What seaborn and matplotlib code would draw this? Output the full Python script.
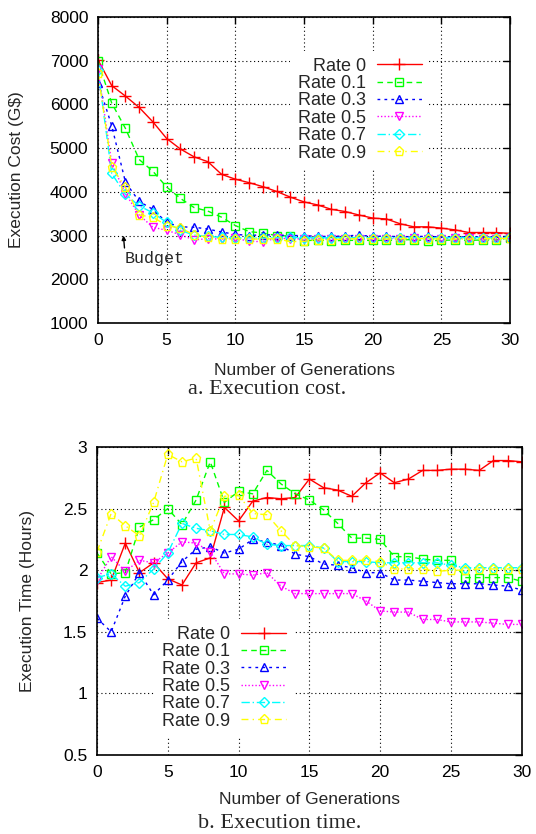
import matplotlib
matplotlib.use("Agg")
import matplotlib.pyplot as plt
import seaborn as sns
import pandas as pd

generations = list(range(31))
rate_labels = ["Rate 0", "Rate 0.1", "Rate 0.3", "Rate 0.5", "Rate 0.7", "Rate 0.9"]

cost_rate0 = [7020, 6430, 6190, 5930, 5600, 5220, 4980, 4800, 4690, 4400, 4290, 4210, 4120, 4010, 3880, 3770,
              3700, 3600, 3550, 3470, 3400, 3380, 3270, 3200, 3200, 3170, 3130, 3070, 3070, 3070, 3050]
cost_rate01 = [6990, 6030, 5450, 4740, 4470, 4110, 3850, 3640, 3560, 3420, 3230, 3090, 3060, 3000, 2990, 2880,
               2900, 2880, 2890, 2890, 2890, 2890, 2900, 2910, 2880, 2890, 2900, 2890, 2900, 2900, 2950]
cost_rate03 = [6500, 5510, 4220, 3780, 3600, 3300, 3200, 3190, 3150, 3080, 3030, 3000, 3020, 3010, 3000, 3000,
               2980, 2980, 2990, 3010, 2980, 2990, 2970, 2980, 2980, 2970, 2970, 2970, 2970, 2960, 2970]
cost_rate05 = [6800, 4650, 3960, 3470, 3190, 3120, 3020, 2900, 2930, 2920, 2940, 2870, 2860, 2940, 2930, 2920,
               2930, 2920, 2930, 2930, 2920, 2930, 2930, 2940, 2930, 2930, 2940, 2940, 2930, 2930, 2940]
cost_rate07 = [6780, 4420, 3940, 3680, 3520, 3300, 3120, 3010, 2980, 2960, 2940, 2950, 2940, 2950, 2960, 2950,
               2950, 2950, 2950, 2950, 2950, 2950, 2950, 2950, 2950, 2950, 2950, 2950, 2950, 2950, 2960]
cost_rate09 = [6720, 4570, 4100, 3470, 3420, 3230, 3170, 3020, 2960, 2930, 2930, 2920, 2920, 2930, 2860, 2870,
               2900, 2910, 2920, 2930, 2930, 2920, 2930, 2930, 2930, 2920, 2920, 2920, 2930, 2930, 2940]

time_rate0 = [1.90, 1.92, 2.22, 1.98, 2.06, 1.93, 1.88, 2.06, 2.10, 2.51, 2.40, 2.56, 2.59, 2.58, 2.59, 2.74,
              2.67, 2.65, 2.60, 2.71, 2.79, 2.71, 2.74, 2.81, 2.81, 2.82, 2.82, 2.81, 2.89, 2.89, 2.88]
time_rate01 = [2.14, 1.97, 1.98, 2.35, 2.41, 2.50, 2.37, 2.57, 2.88, 2.55, 2.64, 2.62, 2.81, 2.70, 2.62, 2.57,
               2.49, 2.38, 2.26, 2.26, 2.25, 2.11, 2.11, 2.09, 2.08, 2.08, 1.94, 1.94, 1.94, 1.94, 1.91]
time_rate03 = [1.61, 1.50, 1.79, 1.98, 1.80, 1.92, 2.07, 2.17, 2.19, 2.14, 2.17, 2.25, 2.23, 2.20, 2.13, 2.11,
               2.05, 2.04, 2.02, 1.98, 1.98, 1.92, 1.92, 1.91, 1.90, 1.89, 1.89, 1.89, 1.88, 1.87, 1.84]
time_rate05 = [1.92, 2.11, 1.99, 2.08, 2.06, 2.14, 2.23, 2.22, 2.15, 1.97, 1.97, 1.96, 1.98, 1.87, 1.81, 1.81,
               1.81, 1.81, 1.81, 1.75, 1.67, 1.66, 1.66, 1.60, 1.60, 1.58, 1.58, 1.58, 1.57, 1.56, 1.56]
time_rate07 = [1.94, 1.97, 1.87, 1.90, 2.01, 2.14, 2.38, 2.34, 2.32, 2.29, 2.29, 2.27, 2.21, 2.20, 2.20, 2.20,
               2.18, 2.07, 2.07, 2.07, 2.06, 2.06, 2.06, 2.06, 2.06, 2.04, 2.02, 2.02, 2.02, 2.02, 2.02]
time_rate09 = [2.15, 2.46, 2.36, 2.28, 2.55, 2.94, 2.88, 2.91, 2.32, 2.60, 2.61, 2.46, 2.45, 2.32, 2.20, 2.19,
               2.18, 2.08, 2.08, 2.08, 2.07, 2.01, 2.01, 2.01, 1.99, 2.00, 2.00, 2.01, 2.01, 2.01, 2.01]

cost_series = [cost_rate0, cost_rate01, cost_rate03, cost_rate05, cost_rate07, cost_rate09]
time_series = [time_rate0, time_rate01, time_rate03, time_rate05, time_rate07, time_rate09]

colors = ["#ff0000", "#00ff00", "#0000ff", "#ff00ff", "#00ffff", "#ffff00"]
markers = ["+", "s", "^", "v", "D", "p"]
msizes = [8, 6, 6, 6, 5, 6.5]
linestyles = ["-", (0, (4, 3)), (0, (2, 3)), (0, (1, 1.5)), (0, (6, 2, 1, 2)), (0, (5, 3, 1, 3))]

sns.set_style("white")
plt.rcParams["font.family"] = ["Liberation Sans", "DejaVu Sans"]

FS = 12.5

fig = plt.figure(figsize=(5.36, 8.34), dpi=100)
ax1 = fig.add_axes([98 / 536, 1 - 323 / 834, 412 / 536, 306 / 834])
ax2 = fig.add_axes([97 / 536, 1 - 755 / 834, 424.7 / 536, 308 / 834])


def draw(ax, series):
    for lab, vals, c, m, ms, ls in zip(rate_labels, series, colors, markers, msizes, linestyles):
        df = pd.DataFrame({"gen": generations, "val": vals})
        sns.lineplot(data=df, x="gen", y="val", ax=ax, color=c, marker=m, markersize=ms,
                     markerfacecolor="none", markeredgecolor=c, markeredgewidth=1.0,
                     linestyle=ls, linewidth=1.0, label=lab)


def style(ax):
    ax.set_xlim(0, 30)
    ax.set_xticks([0, 5, 10, 15, 20, 25, 30])
    ax.grid(True, color="black", linestyle=(0, (1, 2.5)), linewidth=0.8)
    for s in ax.spines.values():
        s.set_color("black")
        s.set_linewidth(1.2)
        s.set_visible(True)
    ax.tick_params(direction="in", length=5, width=1, top=True, right=True,
                   labelsize=FS, pad=7, colors="black")
    ax.set_xlabel("Number of Generations", fontsize=FS)


def legend(ax, anchor):
    ax.legend(loc="upper right", bbox_to_anchor=anchor, markerfirst=False,
              fontsize=13, handlelength=2.5, labelspacing=0.02, handletextpad=0.6,
              borderpad=0.4, frameon=True, facecolor="white", edgecolor="none",
              framealpha=1, fancybox=False)


draw(ax1, cost_series)
style(ax1)
ax1.set_ylim(1000, 8000)
ax1.set_yticks(range(1000, 8001, 1000))
ax1.set_ylabel("Execution Cost (G\\$)", fontsize=FS)
ax1.yaxis.set_label_coords(-0.18, 0.5)
ax1.xaxis.set_label_coords(0.5, -0.13)
ax1.annotate("Budget", xy=(1.85, 3000), xytext=(1.95, 2470), fontsize=12,
             family=["Liberation Mono", "DejaVu Sans Mono"], va="center", ha="left",
             arrowprops=dict(arrowstyle="-|>", color="black", lw=1, mutation_scale=6,
                             shrinkA=0, shrinkB=0, relpos=(0, 1)))
legend(ax1, (0.825, 0.92))

draw(ax2, time_series)
style(ax2)
ax2.set_ylim(0.5, 3)
ax2.set_yticks([0.5, 1, 1.5, 2, 2.5, 3])
ax2.set_yticklabels(["0.5", "1", "1.5", "2", "2.5", "3"])
ax2.set_ylabel("Execution Time (Hours)", fontsize=FS)
ax2.yaxis.set_label_coords(-0.146, 0.5)
ax2.xaxis.set_label_coords(0.5, -0.12)
legend(ax2, (0.484, 0.472))

fig.text(267 / 536, 1 - 390 / 834, "a. Execution cost.", ha="center", va="center",
         fontsize=16, family=["Liberation Serif", "DejaVu Serif"])
fig.text(280 / 536, 1 - 824 / 834, "b. Execution time.", ha="center", va="center",
         fontsize=16, family=["Liberation Serif", "DejaVu Serif"])

fig.savefig("out.png", dpi=100)
